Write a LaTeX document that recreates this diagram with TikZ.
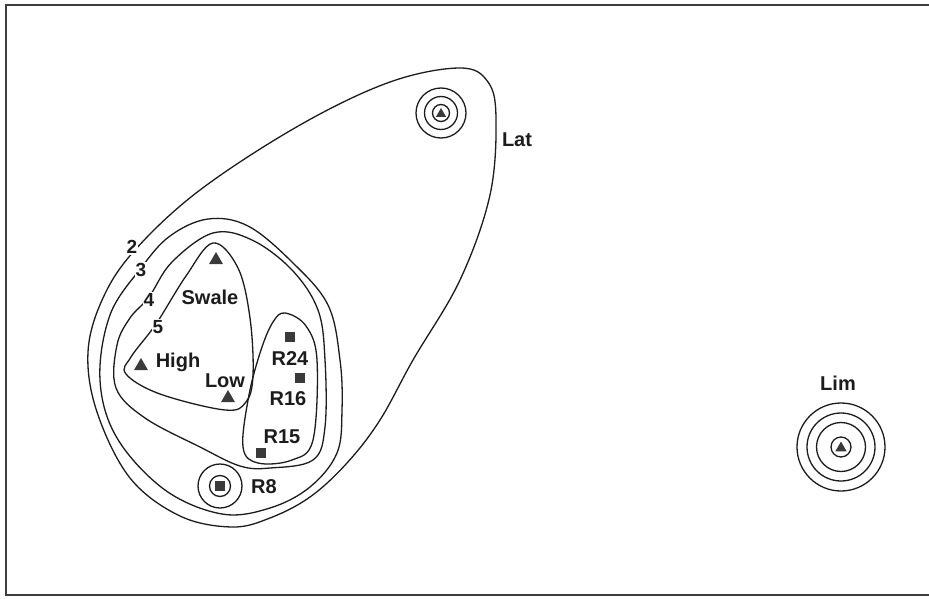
\documentclass[tikz,border=0pt]{standalone}
\usepackage{fontspec}
\setmainfont{Liberation Sans}
\usetikzlibrary{shapes.geometric}
\definecolor{ink}{HTML}{1C1C1C}
\definecolor{mark}{HTML}{3A3A3A}
\tikzset{
  contour/.style={draw=ink, line width=1.3pt},
  ring/.style={draw=ink, line width=1.3pt},
  lbl/.style={font=\bfseries\fontsize{20}{20}\selectfont, text=ink, inner sep=0pt},
  numlbl/.style={font=\bfseries\fontsize{19}{19}\selectfont, text=ink, fill=white, inner sep=1pt},
  tri/.style={regular polygon, regular polygon sides=3, fill=mark, draw=none, minimum size=16pt, inner sep=0pt},
  sq/.style={rectangle, fill=mark, draw=none, minimum size=10.5pt, inner sep=0pt},
}
\begin{document}
\begin{tikzpicture}[x=1pt,y=-1pt]
\useasboundingbox (0,0) rectangle (929,599);
\fill[white] (0,0) rectangle (929,599);
% frame
\draw[line width=2pt, draw=ink!85] (929,5) -- (6,5) -- (6,595) -- (929,595);

% contour 2 (outer)
\draw[contour] plot[smooth cycle, tension=0.6] coordinates {
 (460,68) (488,82) (496,118) (490,195) (460,280) (413,360) (380,420) (347,463)
 (310,497) (270,518) (232,527) (180,516) (130,478) (97,412) (88,352) (103,298) (135,250)
 (200,190) (300,125) (390,82)};
% contour 3
\draw[contour] plot[smooth cycle, tension=0.6] coordinates {
 (141,268) (170,236) (208,219) (248,226) (292,262) (328,305) (340,360) (342,410)
 (337,453) (310,487) (270,508) (222,514) (165,490) (117,438) (100,380) (110,315)};
% contour 4
\draw[contour] plot[smooth cycle, tension=0.6] coordinates {
 (149,297) (172,262) (213,233) (252,240) (292,270) (318,310) (325,360) (325,427)
 (313,460) (270,468) (240,466) (200,447) (145,418) (116,388) (117,345) (130,318)};
% contour 5 (Swale/High/Low)
\draw[contour] plot[smooth cycle, tension=0.6] coordinates {
 (213,243) (238,268) (250,318) (253,375) (246,402) (225,410) (160,394) (126,374)
 (131,357) (156,324) (186,276)};
% R loop
\draw[contour] plot[smooth cycle, tension=0.6] coordinates {
 (285,313) (306,326) (317,360) (313,440) (292,460) (258,463) (243,447)
 (249,395) (261,350) (273,322)};

% gap labels on contours
\node[numlbl] (n2) at (132,247) {2};
\node[numlbl] (n3) at (141,270) {3};
\node[numlbl] (n4) at (149,300) {4};
\node[numlbl] (n5) at (158,327) {5};

% Lat
\coordinate (latc) at (441,113);
\draw[ring] (latc) circle (25pt);
\draw[ring] (latc) circle (16.5pt);
\draw[ring] (latc) circle (8.5pt);
\node[tri, minimum size=12pt] (lattri) at (441,114) {};
\node[lbl] (lat) at (517,140) {Lat};

% Lim
\coordinate (limc) at (841,447);
\draw[ring] (limc) circle (44pt);
\draw[ring] (limc) circle (34pt);
\draw[ring] (limc) circle (24.5pt);
\draw[ring] (limc) circle (10pt);
\node[tri, minimum size=13pt] (limtri) at (841,448) {};
\node[lbl] (lim) at (838,383) {Lim};

% R8
\coordinate (r8c) at (220,486);
\draw[ring] (r8c) circle (22pt);
\draw[ring] (r8c) circle (10.5pt);
\node[sq] (r8sq) at (r8c) {};
\node[lbl] (r8) at (264,487) {R8};

% triangles and squares
\node[tri] (swaletri) at (216,260) {};
\node[lbl] (swale) at (210,297) {Swale};
\node[tri] (hightri) at (141,366) {};
\node[lbl] (high) at (178,362) {High};
\node[tri] (lowtri) at (228,398) {};
\node[lbl] (low) at (225,381) {Low};
\node[sq] (r24sq) at (290,337) {};
\node[lbl] (r24) at (290,359) {R24};
\node[sq] (r16sq) at (300,378) {};
\node[lbl] (r16) at (288,399) {R16};
\node[sq] (r15sq) at (261,453) {};
\node[lbl] (r15) at (282,437) {R15};
\end{tikzpicture}
\end{document}
